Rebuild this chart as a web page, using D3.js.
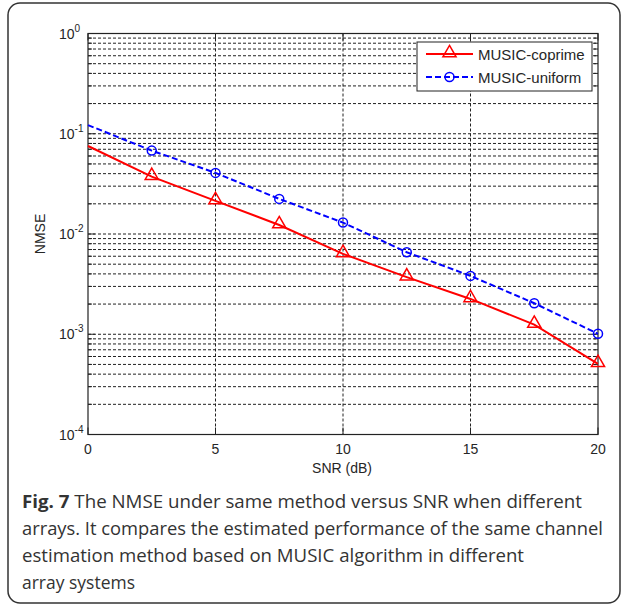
<!DOCTYPE html>
<html lang="en">
<head>
  <meta charset="UTF-8">
  <title>NMSE versus SNR</title>
  <script src="https://d3js.org/d3.v7.min.js"></script>
  <style>
    body { margin: 0; background: #fff; }
    .tick-label { font: 14px "Liberation Sans", Arial, sans-serif; fill: #262626; }
    .grid line { stroke: #222; stroke-width: 1; stroke-dasharray: 3,2; }
    .caption { font-family: "Open Sans", "Noto Sans", sans-serif; font-size: 18px; fill: #333; }
  </style>
</head>
<body>
  <svg width="625" height="606"></svg>

  <script>
    // SNR values (dB)
    const snr = [0, 2.5, 5, 7.5, 10, 12.5, 15, 17.5, 20];
    const coprime = [0.0755, 0.0373, 0.0214, 0.0123, 0.00634, 0.00371, 0.00225, 0.00125, 0.000507];
    const uniform = [0.122, 0.0679, 0.0407, 0.0224, 0.0130, 0.00658, 0.00382, 0.00204, 0.00101];
    const xTicks = [0, 5, 10, 15, 20];
    const yExponents = [0, -1, -2, -3, -4];
    const seriesNames = ["MUSIC-coprime", "MUSIC-uniform"];
    const captionLines = [
      "The NMSE under same method versus SNR when different",
      "arrays. It compares the estimated performance of the same channel",
      "estimation method based on MUSIC algorithm in different",
      "array systems"
    ];
    const captionWidths = [560, 581, 502, 113];

    const svg = d3.select("svg");
    const pL = 88, pR = 598, pT = 33.5, pB = 434.5;

    // outer rounded frame
    svg.append("rect")
      .attr("x", 8).attr("y", 3).attr("width", 612).attr("height", 600)
      .attr("rx", 12)
      .attr("fill", "none").attr("stroke", "#333").attr("stroke-width", 1.5);

    const x = d3.scaleLinear().domain([0, 20]).range([pL, pR]);
    const y = d3.scaleLog().domain([1e-4, 1]).range([pB, pT]);

    // grid lines
    const grid = svg.append("g").attr("class", "grid");
    const minorVals = [];
    for (let e = -4; e < 0; e++) {
      for (let m = 1; m <= 9; m++) minorVals.push(m * Math.pow(10, e));
    }
    minorVals.push(1);
    grid.selectAll(".h").data(minorVals.filter(v => v > 1e-4 && v < 1))
      .enter().append("line")
      .attr("x1", pL).attr("x2", pR)
      .attr("y1", d => y(d)).attr("y2", d => y(d));
    grid.selectAll(".v").data(xTicks.slice(1, -1))
      .enter().append("line")
      .attr("x1", d => x(d)).attr("x2", d => x(d))
      .attr("y1", pT).attr("y2", pB);

    // tick marks on all four sides
    const ticks = svg.append("g").attr("stroke", "#222").attr("stroke-width", 1);
    minorVals.forEach(v => {
      const major = Math.abs(Math.log10(v) - Math.round(Math.log10(v))) < 1e-9;
      const len = major ? 7 : 4;
      ticks.append("line").attr("x1", pL).attr("x2", pL + len).attr("y1", y(v)).attr("y2", y(v));
      ticks.append("line").attr("x1", pR).attr("x2", pR - len).attr("y1", y(v)).attr("y2", y(v));
    });
    xTicks.forEach(t => {
      ticks.append("line").attr("x1", x(t)).attr("x2", x(t)).attr("y1", pB).attr("y2", pB - 7);
      ticks.append("line").attr("x1", x(t)).attr("x2", x(t)).attr("y1", pT).attr("y2", pT + 7);
    });

    // axes box
    svg.append("rect")
      .attr("x", pL).attr("y", pT).attr("width", pR - pL).attr("height", pB - pT)
      .attr("fill", "none").attr("stroke", "#222").attr("stroke-width", 1.2);

    // x tick labels
    svg.append("g").selectAll("text").data(xTicks).enter().append("text")
      .attr("class", "tick-label")
      .attr("x", d => x(d)).attr("y", pB + 19)
      .attr("text-anchor", "middle")
      .text(d => d);

    // y tick labels 10^e
    const yl = svg.append("g").selectAll("text").data(yExponents).enter().append("text")
      .attr("class", "tick-label")
      .attr("x", 59).attr("y", d => y(Math.pow(10, d)) + 5);
    yl.append("tspan").text("10");
    yl.append("tspan").attr("dy", -7).style("font-size", "10px").text(d => d);

    // axis titles
    svg.append("text").attr("class", "tick-label")
      .attr("x", (pL + pR) / 2 - 1).attr("y", 473)
      .attr("text-anchor", "middle").text("SNR (dB)");
    svg.append("text").attr("class", "tick-label")
      .attr("transform", `translate(45,${(pT + pB) / 2}) rotate(-90)`)
      .attr("text-anchor", "middle").text("NMSE");

    // series
    const line = d3.line().x((d, i) => x(snr[i])).y(d => y(d));
    svg.append("path").datum(coprime).attr("d", line)
      .attr("fill", "none").attr("stroke", "#ff0000").attr("stroke-width", 2);
    svg.append("path").datum(uniform).attr("d", line)
      .attr("fill", "none").attr("stroke", "#0000ff").attr("stroke-width", 2)
      .attr("stroke-dasharray", "6,3");

    const tri = d3.symbol().type(d3.symbolTriangle).size(75);
    svg.append("g").selectAll("path").data(coprime.slice(1)).enter().append("path")
      .attr("d", tri)
      .attr("transform", (d, i) => `translate(${x(snr[i + 1])},${y(d) - 1})`)
      .attr("fill", "none").attr("stroke", "#ff0000").attr("stroke-width", 1.5);
    svg.append("g").selectAll("circle").data(uniform.slice(1)).enter().append("circle")
      .attr("cx", (d, i) => x(snr[i + 1])).attr("cy", d => y(d)).attr("r", 4.5)
      .attr("fill", "none").attr("stroke", "#0000ff").attr("stroke-width", 1.5);

    // legend
    const lg = svg.append("g");
    lg.append("rect").attr("x", 417).attr("y", 42).attr("width", 175).attr("height", 49)
      .attr("fill", "#fff").attr("stroke", "#222").attr("stroke-width", 1);
    lg.append("line").attr("x1", 426).attr("x2", 473).attr("y1", 54).attr("y2", 54)
      .attr("stroke", "#ff0000").attr("stroke-width", 2);
    lg.append("path").attr("d", tri).attr("transform", "translate(449.5,53)")
      .attr("fill", "none").attr("stroke", "#ff0000").attr("stroke-width", 1.5);
    lg.append("line").attr("x1", 426).attr("x2", 473).attr("y1", 77).attr("y2", 77)
      .attr("stroke", "#0000ff").attr("stroke-width", 2).attr("stroke-dasharray", "6,3");
    lg.append("circle").attr("cx", 449.5).attr("cy", 77).attr("r", 4.5)
      .attr("fill", "none").attr("stroke", "#0000ff").attr("stroke-width", 1.5);
    lg.selectAll(".lt").data(seriesNames).enter().append("text")
      .attr("class", "tick-label").style("font-size", "15px")
      .attr("x", 478).attr("y", (d, i) => 60 + i * 23)
      .text(d => d);

    // caption
    captionLines.forEach((t, i) => {
      const ln = svg.append("text").attr("class", "caption")
        .attr("x", 22).attr("y", 508 + i * 27)
        .attr("textLength", captionWidths[i]).attr("lengthAdjust", "spacingAndGlyphs");
      if (i === 0) {
        ln.append("tspan").style("font-weight", "bold").text("Fig. 7");
        ln.append("tspan").text(" " + t);
      } else {
        ln.text(t);
      }
    });
  </script>
</body>
</html>
